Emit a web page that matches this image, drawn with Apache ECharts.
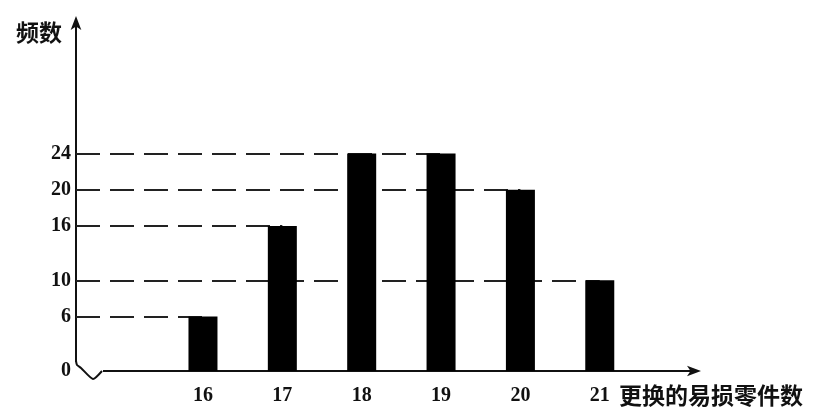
<!DOCTYPE html>
<html>
<head>
<meta charset="utf-8">
<script src="https://cdn.jsdelivr.net/npm/echarts@6/dist/echarts.min.js"></script>
<style>
  html, body { margin: 0; padding: 0; background: #fff; }
  #chart { width: 819px; height: 420px; }
</style>
</head>
<body>
<div id="chart"></div>
<script>
  // 更换的易损零件数 / 频数
  let parts = [16, 17, 18, 19, 20, 21]
  let counts = [6, 16, 24, 24, 20, 10]
  let yTicks = [0, 6, 10, 16, 20, 24]

  let xMin = 14.4
  let xMax = 22.2
  let numFont = '"Liberation Serif", "DejaVu Serif", serif'
  let cjkFont = '"Noto Sans CJK SC", sans-serif'

  let myChart = echarts.init(document.getElementById('chart'))

  let guides = []
  parts.forEach((p, i) => {
    guides.push([{coord: [xMin, counts[i]]}, {coord: [p, counts[i]]}])
  })

  let option = {
    backgroundColor: '#fff',
    animation: false,
    grid: {left: 76, right: 124, top: 22, bottom: 49},
    xAxis: {
      type: 'value',
      min: xMin,
      max: xMax,
      splitLine: {show: false},
      axisTick: {show: false},
      axisLine: {
        show: true,
        symbol: ['none', 'arrow'],
        symbolSize: [8, 14],
        symbolOffset: [0, 6],
        lineStyle: {color: '#111', width: 2}
      },
      axisLabel: {
        customValues: parts,
        margin: 15,
        fontFamily: numFont, fontWeight: 'bold', fontSize: 20, color: '#111'
      }
    },
    yAxis: {
      type: 'value',
      min: 0,
      max: 38.5,
      name: '频数',
      nameLocation: 'end',
      nameGap: -10,
      nameTextStyle: {
        fontFamily: cjkFont, fontWeight: 'bold', fontSize: 23, color: '#111',
        align: 'right', verticalAlign: 'middle', padding: [0, 14, 0, 0]
      },
      splitLine: {show: false},
      axisTick: {show: false},
      axisLine: {
        show: true,
        symbol: ['none', 'arrow'],
        symbolSize: [8, 14],
        symbolOffset: [0, 6],
        lineStyle: {color: '#111', width: 2}
      },
      axisLabel: {
        customValues: yTicks,
        margin: 5,
        fontFamily: numFont, fontWeight: 'bold', fontSize: 20, color: '#111'
      }
    },
    series: [{
      type: 'bar',
      z: 10,
      barWidth: 29,
      itemStyle: {color: '#000'},
      data: parts.map((p, i) => [p, counts[i]]),
      markLine: {
        z: 3,
        silent: true,
        symbol: 'none',
        label: {show: false},
        lineStyle: {color: '#222', width: 2, type: [24, 10]},
        data: guides
      }
    }]
  }
  myChart.setOption(option)

  // axis break squiggle at the origin, and the x axis name under the arrow
  let o = myChart.convertToPixel({gridIndex: 0}, [xMin, 0])
  let e = myChart.convertToPixel({gridIndex: 0}, [xMax, 0])
  myChart.setOption({
    graphic: [
      {type: 'rect', z: 50, shape: {x: o[0] - 2, y: o[1] - 9, width: 29, height: 12}, style: {fill: '#fff'}},
      {
        type: 'polyline', z: 51,
        shape: {
          points: [[o[0], o[1] - 10], [o[0] + 1, o[1] - 6], [o[0] + 5, o[1] - 3], [o[0] + 17, o[1] + 8], [o[0] + 26, o[1]]],
          smooth: 0.2
        },
        style: {stroke: '#111', lineWidth: 2, fill: null}
      },
      {
        type: 'text', z: 51,
        x: e[0] - 76, y: e[1] + 24,
        style: {
          text: '更换的易损零件数',
          font: 'bold 23px "Noto Sans CJK SC", sans-serif',
          fill: '#111', align: 'left', verticalAlign: 'middle'
        }
      }
    ]
  })
</script>
</body>
</html>
